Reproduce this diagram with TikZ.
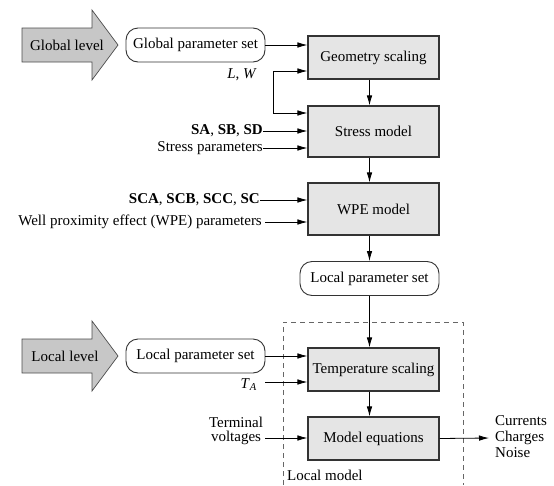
\documentclass[tikz,border=0pt]{standalone}
\usepackage{fontspec}
\setmainfont{Liberation Serif}
\usetikzlibrary{arrows.meta,calc}
\begin{document}
\begin{tikzpicture}[x=1pt,y=-1pt,
  every node/.style={font=\fontsize{15}{17}\selectfont, inner sep=0pt},
  blk/.style={draw=black!80, line width=1.1pt, fill=black!10, minimum width=131, minimum height=43, anchor=center},
  pset/.style={draw=black!80, line width=0.9pt, rounded corners=12pt, minimum width=139, minimum height=34},
  lvl/.style={fill=black!22, draw=black!70, line width=0.7pt},
  conn/.style={line width=0.8pt, -{Latex[length=10pt,width=5.5pt]}},
  lab/.style={anchor=east}
]
\useasboundingbox (0,0) rectangle (554,485);

% level arrows
\draw[lvl] (22,28) -- (92,28) -- (92,10) -- (118,45) -- (92,80) -- (92,62) -- (22,62) -- cycle;
\node (globl) at (67,45) {Global level};
\draw[lvl] (22,339) -- (92,339) -- (92,321) -- (118,356) -- (92,391) -- (92,373) -- (22,373) -- cycle;
\node (locl) at (65,356) {Local level};

% parameter sets
\node[pset] (gps) at (195.5,45) {Global parameter set};
\node[pset] (lps) at (195.5,356) {Local parameter set};
\node[pset] (lmid) at (369.5,278.5) {Local parameter set};

% blocks
\node[blk] (geo) at (373.5,57.5) {Geometry scaling};
\node[blk, minimum height=51] (stress) at (373.5,131.5) {Stress model};
\node[blk, minimum height=52] (wpe) at (373.5,209) {WPE model};
\node[blk] (temp) at (373.5,369.5) {Temperature scaling};
\node[blk] (meq) at (373.5,438.5) {Model equations};

% dashed local model frame
\draw[black!60, line width=0.8pt, dash pattern=on 5pt off 4pt] (283,485) -- (283,322) -- (463,322) -- (463,485);
\node[anchor=west] (lm) at (287,475) {Local model};

% geometry inputs
\draw[conn] (gps.east) -- (gps.east -| geo.west);
\node[lab] (lw) at (257,75) {\textit{L}, \textit{W}};
\coordinate (j) at (273,71);
\draw[conn] (j) -- (j -| geo.west);
\coordinate (j2) at (273,113);
\draw[conn] (j) -- (j2) -- (j2 -| stress.west);

% stress inputs
\node[lab] (sa) at (263,131) {\textbf{SA}, \textbf{SB}, \textbf{SD}};
\node[lab] (sp) at (263,148) {Stress parameters};
\draw[conn] (sa.east) -- (sa.east -| stress.west);
\draw[conn] (sp.east) -- (sp.east -| stress.west);

% wpe inputs
\node[lab] (sca) at (260,200) {\textbf{SCA}, \textbf{SCB}, \textbf{SCC}, \textbf{SC}};
\node[lab] (wp) at (262,222) {Well proximity effect (WPE) parameters};
\draw[conn] (sca.east) -- (sca.east -| wpe.west);
\coordinate (wps) at (265,222);
\draw[conn] (wps) -- (wps -| wpe.west);

% vertical chain
\draw[conn] (geo.south -| lmid) -- (stress.north -| lmid);
\draw[conn] (stress.south -| lmid) -- (wpe.north -| lmid);
\draw[conn] (wpe.south -| lmid) -- (lmid.north);
\draw[conn] (lmid.south) -- (temp.north -| lmid);
\draw[conn] (temp.south -| lmid) -- (meq.north -| lmid);

% temperature inputs
\draw[conn] (lps.east) -- (lps.east -| temp.west);
\node[lab] (ta) at (257,385) {\textit{T}\textsubscript{\textit{A}}};
\coordinate (tas) at (265,382);
\draw[conn] (tas) -- (tas -| temp.west);

% model equation input / output
\node[align=center] (tv) at (236,431) {Terminal\\[-3pt]voltages};
\coordinate (tvs) at (265,438);
\draw[conn] (tvs) -- (tvs -| meq.west);
\coordinate (out) at (489,438);
\draw[conn] (meq.east) -- (out);
\node[anchor=west, align=left] (outs) at (495,437) {Currents\\[-1pt]Charges\\[-1pt]Noise};
\end{tikzpicture}
\end{document}
